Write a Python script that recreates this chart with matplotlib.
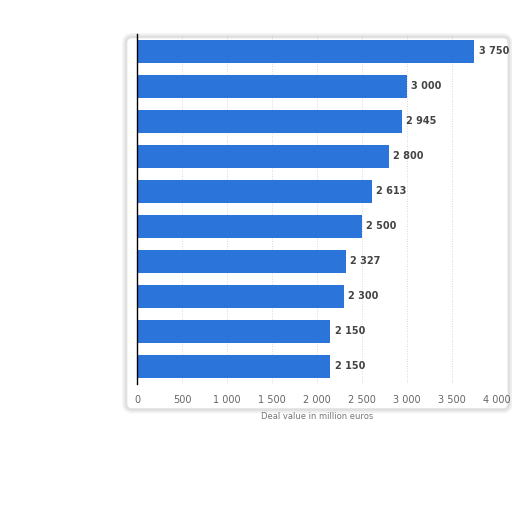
import numpy as np
import matplotlib
matplotlib.use('Agg')
import matplotlib.pyplot as plt
from matplotlib.patches import FancyBboxPatch

values = [3750, 3000, 2945, 2800, 2613, 2500, 2327, 2300, 2150, 2150]
xticks = [0, 500, 1000, 1500, 2000, 2500, 3000, 3500, 4000]
xlabel = 'Deal value in million euros'

BAR = '#2b74d9'


def fmt(v):
    return '{:,}'.format(v).replace(',', ' ')


fig = plt.figure(figsize=(5.12, 5.12), dpi=100)

# faint "paper" backdrop with a soft grey edge
for lw, col in ((5, '#f0f0f0'), (2, '#e0e0e0')):
    paper = FancyBboxPatch((0.246, 0.2), 0.748, 0.728,
                           boxstyle='round,pad=0.0,rounding_size=0.012',
                           transform=fig.transFigure, facecolor='white',
                           edgecolor=col, linewidth=lw, zorder=0)
    fig.patches.append(paper)

ax = fig.add_axes([0.2676, 0.25, 0.703, 0.6836])
ax.set_zorder(2)
ax.set_facecolor('none')

y = np.arange(len(values))
ax.barh(y, values, height=0.66, color=BAR, zorder=2)
ax.set_ylim(len(values) - 0.5, -0.5)
ax.set_xlim(0, 4000)

for yi, v in zip(y, values):
    ax.text(v + 45, yi, fmt(v), va='center', ha='left', fontsize=7,
            fontweight='bold', color='#444444', zorder=3)

ax.set_xticks(xticks)
ax.set_xticklabels([fmt(t) for t in xticks], fontsize=7, color='#666666')
ax.set_yticks([])
ax.tick_params(axis='x', length=0, pad=8)
ax.grid(axis='x', color='#cccccc', linestyle=(0, (1, 2)), linewidth=0.6, zorder=1)
ax.set_axisbelow(True)

for side in ('top', 'right', 'bottom'):
    ax.spines[side].set_visible(False)
ax.spines['left'].set_color('black')
ax.spines['left'].set_linewidth(1)

ax.set_xlabel(xlabel, fontsize=6, color='#777777', labelpad=5)

fig.savefig('out.png', dpi=100)
